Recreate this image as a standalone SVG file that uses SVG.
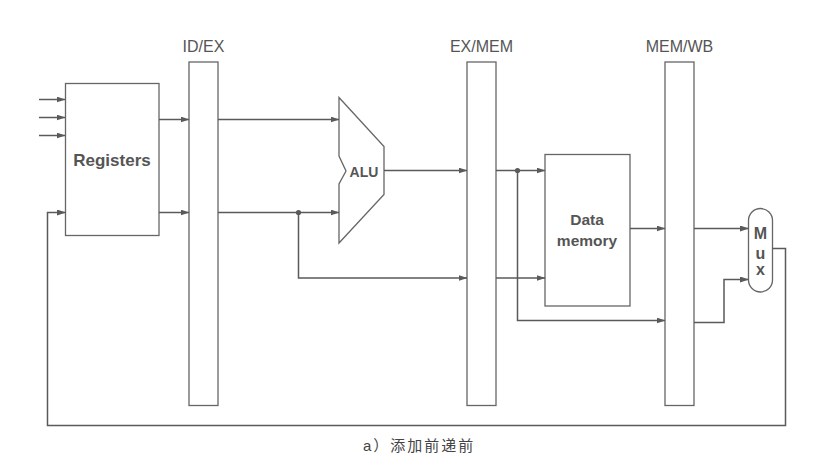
<svg xmlns="http://www.w3.org/2000/svg" width="822" height="475" viewBox="0 0 822 475">
<style>
.bar{fill:#fff;stroke:#666;stroke-width:1.3}
.box{fill:#fff;stroke:#666;stroke-width:1.3}
.w{fill:none;stroke:#5a5a5a;stroke-width:1.5}
.lbl{font-family:"Liberation Sans",Arial,sans-serif;font-size:16px;fill:#555;text-anchor:middle}
.bt{font-family:"Liberation Sans",Arial,sans-serif;font-weight:bold;fill:#555;text-anchor:middle}
.cap{font-family:"Liberation Sans","Noto Sans CJK SC",sans-serif;font-size:15px;fill:#444;letter-spacing:2px}
</style>
<defs>
<marker id="ah" markerUnits="userSpaceOnUse" markerWidth="9" markerHeight="7" refX="8.5" refY="3" orient="auto">
<path d="M0,0 L9,3 L0,6 z" fill="#5a5a5a"/>
</marker>
</defs>
<rect width="822" height="475" fill="#fff"/>
<g id="idex"><rect class="bar" x="189" y="62" width="29" height="343.5"/><text class="lbl" x="203.5" y="52">ID/EX</text></g>
<g id="exmem"><rect class="bar" x="467" y="62" width="29" height="343.5"/><text class="lbl" x="481.5" y="52">EX/MEM</text></g>
<g id="memwb"><rect class="bar" x="665" y="62" width="29" height="343.5"/><text class="lbl" x="679.5" y="52">MEM/WB</text></g>
<g id="registers"><rect class="box" x="65.5" y="83.5" width="93.5" height="152"/><text class="bt" x="112" y="165.5" font-size="17">Registers</text></g>
<g id="alu"><polygon class="box" points="339,97.5 384,146.5 384,194.5 339,243 339,184 346,171 339,156"/><text class="bt" x="364" y="176.5" font-size="14">ALU</text></g>
<g id="datamemory"><rect class="box" x="545" y="154.5" width="85" height="151.5"/><text class="bt" x="587" y="225" font-size="15.5">Data</text><text class="bt" x="587" y="246" font-size="15.5">memory</text></g>
<g id="mux"><rect class="box" x="748.5" y="208.5" width="24" height="83.5" rx="12" ry="12"/><text class="bt" x="760.5" y="238.5" font-size="16">M</text><text class="bt" x="760.5" y="258.5" font-size="16">u</text><text class="bt" x="760.5" y="274.5" font-size="16">x</text></g>
<g id="connectors">
<path class="w" d="M39,99.5 H65" marker-end="url(#ah)"/>
<path class="w" d="M39,117.5 H65" marker-end="url(#ah)"/>
<path class="w" d="M39,135.5 H65" marker-end="url(#ah)"/>
<path class="w" d="M159,119.5 H189" marker-end="url(#ah)"/>
<path class="w" d="M159,212.5 H189" marker-end="url(#ah)"/>
<path class="w" d="M218,119.5 H339" marker-end="url(#ah)"/>
<path class="w" d="M218,212.5 H339" marker-end="url(#ah)"/>
<path class="w" d="M298.5,212.5 V278 H467" marker-end="url(#ah)"/>
<circle cx="298.5" cy="212.5" r="2.6" fill="#5a5a5a"/>
<path class="w" d="M384,170.5 H467" marker-end="url(#ah)"/>
<path class="w" d="M496,170.5 H545" marker-end="url(#ah)"/>
<path class="w" d="M517.5,170.5 V320.5 H665" marker-end="url(#ah)"/>
<circle cx="517.5" cy="170.5" r="2.6" fill="#5a5a5a"/>
<path class="w" d="M496,278 H545" marker-end="url(#ah)"/>
<path class="w" d="M630,228.5 H665" marker-end="url(#ah)"/>
<path class="w" d="M694,228.5 H748.5" marker-end="url(#ah)"/>
<path class="w" d="M694,322.5 H724 V279.5 H748.5" marker-end="url(#ah)"/>
<path class="w" d="M772.5,248.5 H785.5 V425.5 H47.5 V212.5 H65.5" marker-end="url(#ah)"/>
</g>
<text class="cap" x="363" y="451">a）添加前递前</text>
</svg>
